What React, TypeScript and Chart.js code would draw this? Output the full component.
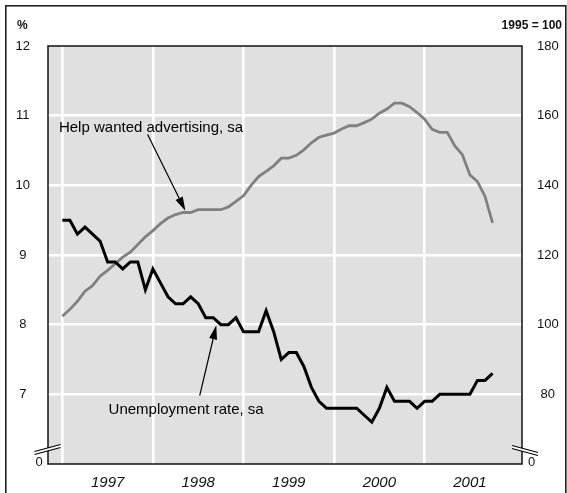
import React, { useEffect, useRef } from 'react';
import { Chart, registerables } from 'chart.js';

Chart.register(...registerables);

// Monthly data, January 1997 (index 0) to October 2001
const unemployment = [
  9.5, 9.5, 9.3, 9.4, 9.3, 9.2, 8.9, 8.9, 8.8, 8.9, 8.9, 8.5,
  8.8, 8.6, 8.4, 8.3, 8.3, 8.4, 8.3, 8.1, 8.1, 8.0, 8.0, 8.1,
  7.9, 7.9, 7.9, 8.2, 7.9, 7.5, 7.6, 7.6, 7.4, 7.1, 6.9, 6.8,
  6.8, 6.8, 6.8, 6.8, 6.7, 6.6, 6.8, 7.1, 6.9, 6.9, 6.9, 6.8,
  6.9, 6.9, 7.0, 7.0, 7.0, 7.0, 7.0, 7.2, 7.2, 7.3,
];
const helpWanted = [
  102.4, 104.4, 106.7, 109.6, 111.2, 113.9, 115.6, 117.5, 119.4, 120.8, 123.0, 125.2,
  127.0, 129.0, 130.6, 131.6, 132.2, 132.2, 133.0, 133.0, 133.0, 133.0, 133.8, 135.4,
  137.0, 140.0, 142.5, 144.0, 145.6, 147.8, 147.8, 148.6, 150.2, 152.2, 153.8, 154.4,
  155.0, 156.2, 157.1, 157.1, 158.0, 159.0, 160.7, 161.9, 163.6, 163.6, 162.6, 160.9,
  159.0, 156.1, 155.2, 155.2, 151.3, 148.8, 143.0, 141.1, 136.8, 129.2,
];
const yearLabels = ['1997', '1998', '1999', '2000', '2001'];
const leftRange = [6, 12];
const rightRange = [60, 180];
const leftUnit = '%';
const rightUnit = '1995 = 100';
const helpLabel = 'Help wanted advertising, sa';
const unempLabel = 'Unemployment rate, sa';

const FONT = '"Liberation Sans", Arial, Helvetica, sans-serif';

function arrow(ctx: CanvasRenderingContext2D, x1: number, y1: number, x2: number, y2: number) {
  const ang = Math.atan2(y2 - y1, x2 - x1);
  const len = 14;
  const hw = 4;
  const bx = x2 - len * Math.cos(ang);
  const by = y2 - len * Math.sin(ang);
  ctx.beginPath();
  ctx.moveTo(x1, y1);
  ctx.lineTo(bx, by);
  ctx.lineWidth = 1.2;
  ctx.strokeStyle = '#000';
  ctx.stroke();
  ctx.beginPath();
  ctx.moveTo(x2, y2);
  ctx.lineTo(bx + hw * Math.sin(ang), by - hw * Math.cos(ang));
  ctx.lineTo(bx - hw * Math.sin(ang), by + hw * Math.cos(ang));
  ctx.closePath();
  ctx.fillStyle = '#000';
  ctx.fill();
}

function breakMark(ctx: CanvasRenderingContext2D, cx: number, cy: number, dir: number) {
  const hx = 13;
  const hy = 3.5 * dir;
  const gap = 3;
  ctx.save();
  ctx.beginPath();
  ctx.moveTo(cx - hx, cy - hy);
  ctx.lineTo(cx + hx, cy + hy);
  ctx.lineTo(cx + hx, cy + hy + gap);
  ctx.lineTo(cx - hx, cy - hy + gap);
  ctx.closePath();
  ctx.fillStyle = '#fff';
  ctx.fill();
  ctx.strokeStyle = '#000';
  ctx.lineWidth = 1.2;
  ctx.beginPath();
  ctx.moveTo(cx - hx, cy - hy);
  ctx.lineTo(cx + hx, cy + hy);
  ctx.moveTo(cx - hx, cy - hy + gap);
  ctx.lineTo(cx + hx, cy + hy + gap);
  ctx.stroke();
  ctx.restore();
}

const decor = {
  id: 'decor',
  beforeDraw(chart: any) {
    const { ctx, chartArea: a } = chart;
    ctx.save();
    ctx.fillStyle = '#fff';
    ctx.fillRect(0, 0, chart.width, chart.height);
    ctx.fillStyle = '#e0e0e0';
    ctx.fillRect(a.left, a.top, a.right - a.left, a.bottom - a.top);
    ctx.restore();
  },
  afterDraw(chart: any) {
    const { ctx, chartArea: a, scales } = chart;
    const xs = scales.x;
    const yl = scales.y;
    const yr = scales.y1;
    ctx.save();
    // plot border
    ctx.strokeStyle = '#111';
    ctx.lineWidth = 1.5;
    ctx.strokeRect(a.left, a.top, a.right - a.left, a.bottom - a.top);
    // outer frame
    ctx.strokeStyle = '#222';
    ctx.lineWidth = 1.6;
    ctx.strokeRect(5.8, 5.8, 560, 600);
    // breaks
    breakMark(ctx, a.left - 0.5, a.bottom - 16, -1);
    breakMark(ctx, a.right + 3, a.bottom - 15, 1);
    // zero labels
    ctx.fillStyle = '#111';
    ctx.font = `13px ${FONT}`;
    ctx.textAlign = 'center';
    ctx.textBaseline = 'middle';
    ctx.fillText('0', a.left - 9, a.bottom - 1.5);
    ctx.fillText('0', a.right + 9.5, a.bottom - 1.5);
    // units
    ctx.font = `bold 12px ${FONT}`;
    ctx.textAlign = 'left';
    ctx.fillText(leftUnit, 17, 25.5);
    ctx.textAlign = 'right';
    ctx.fillText(rightUnit, 562, 25.5);
    // annotations
    ctx.font = `15px ${FONT}`;
    ctx.fillStyle = '#000';
    ctx.textAlign = 'left';
    ctx.fillText(helpLabel, xs.getPixelForValue(-0.45), yl.getPixelForValue(10.83));
    arrow(ctx, xs.getPixelForValue(11.3), yl.getPixelForValue(10.73), xs.getPixelForValue(16.3), yr.getPixelForValue(132.7));
    ctx.textAlign = 'center';
    ctx.fillText(unempLabel, xs.getPixelForValue(16.4), yl.getPixelForValue(6.77));
    arrow(ctx, xs.getPixelForValue(18.2), yl.getPixelForValue(6.98), xs.getPixelForValue(20.4), yl.getPixelForValue(7.99));
    ctx.restore();
  },
};

export default function App() {
  const ref = useRef<HTMLCanvasElement>(null);
  useEffect(() => {
    if (!ref.current) return;
    const months = unemployment.map((_, i) => i);
    const chart = new Chart(ref.current, {
      type: 'line',
      data: {
        datasets: [
          {
            label: unempLabel,
            data: months.map((m, i) => ({ x: m, y: unemployment[i] })),
            borderColor: '#000',
            borderWidth: 3,
            pointRadius: 0,
            tension: 0,
            yAxisID: 'y',
          },
          {
            label: helpLabel,
            data: months.map((m, i) => ({ x: m, y: helpWanted[i] })),
            borderColor: '#808080',
            borderWidth: 2.8,
            pointRadius: 0,
            tension: 0,
            yAxisID: 'y1',
          },
        ],
      },
      options: {
        responsive: false,
        maintainAspectRatio: false,
        devicePixelRatio: 1,
        animation: false,
        layout: { padding: { top: 46, left: 0, right: 0, bottom: 0 } },
        plugins: { legend: { display: false }, tooltip: { enabled: false } },
        scales: {
          x: {
            type: 'linear',
            min: -1.9,
            max: 60.9,
            afterBuildTicks: (s: any) => {
              s.ticks = [0, 6, 12, 18, 24, 30, 36, 42, 48, 54].map((v) => ({ value: v }));
            },
            afterFit: (s: any) => {
              s.height = 29;
            },
            grid: {
              color: (c: any) => (c.tick && c.tick.value % 12 === 0 ? '#ffffff' : 'rgba(0,0,0,0)'),
              lineWidth: 2.6,
              drawTicks: false,
            },
            border: { display: false },
            ticks: {
              autoSkip: false,
              maxRotation: 0,
              padding: 10,
              color: '#111',
              font: { family: FONT, size: 15, style: 'italic' },
              callback: (v: any) => (v % 12 === 6 ? yearLabels[(v - 6) / 12] : ''),
            },
          },
          y: {
            position: 'left',
            min: leftRange[0],
            max: leftRange[1],
            afterFit: (s: any) => {
              s.width = 48;
            },
            grid: {
              color: (c: any) =>
                c.tick && c.tick.value > leftRange[0] && c.tick.value < leftRange[1] ? '#ffffff' : 'rgba(0,0,0,0)',
              lineWidth: 2.6,
              drawTicks: false,
            },
            border: { display: false },
            ticks: {
              stepSize: 1,
              padding: 18,
              crossAlign: 'center',
              color: '#111',
              font: { family: FONT, size: 13 },
              callback: (v: any) => (v === leftRange[0] ? '' : String(v)),
            },
          },
          y1: {
            position: 'right',
            min: rightRange[0],
            max: rightRange[1],
            afterFit: (s: any) => {
              s.width = 45;
            },
            grid: { display: false, drawTicks: false },
            border: { display: false },
            ticks: {
              stepSize: 20,
              padding: 15,
              crossAlign: 'center',
              color: '#111',
              font: { family: FONT, size: 13 },
              callback: (v: any) => (v === rightRange[0] ? '' : String(v)),
            },
          },
        },
      },
      plugins: [decor],
    } as any);
    return () => chart.destroy();
  }, []);
  return (
    <div style={{ position: 'absolute', left: 0, top: 0, width: 567, height: 493 }}>
      <canvas ref={ref} width={567} height={493} style={{ display: 'block' }} />
    </div>
  );
}
